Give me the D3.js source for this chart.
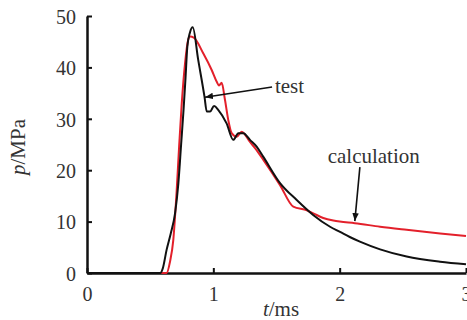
<!DOCTYPE html>
<html>
<head>
<meta charset="utf-8">
<script src="https://cdn.jsdelivr.net/npm/d3@7.9.0/dist/d3.min.js"></script>
<style>
  body { margin: 0; background: #fff; }
</style>
</head>
<body>
<svg id="chart" width="467" height="320"></svg>
<script>
// measured pressure (test)
const testT = [0, 0.58, 0.60, 0.63, 0.663, 0.697, 0.723, 0.745, 0.765, 0.78, 0.794, 0.815, 0.837,
  0.88, 0.93, 0.948, 0.974, 1.006, 1.04, 1.105, 1.158, 1.198, 1.237, 1.29, 1.343, 1.396,
  1.528, 1.66, 1.79, 1.924, 2.003, 2.08, 2.16, 2.32, 2.53, 2.795, 3.0];
const testP = [0, 0, 0.9, 4.5, 7.7, 11.6, 17.4, 25, 32, 38, 44, 46.8, 47.8,
  41.5, 34.3, 31.4, 31.4, 32.5, 31.7, 29.1, 25.9, 27.2, 27.2, 25.9, 24.6, 22.6,
  17.5, 14.2, 11.3, 9.0, 8.0, 7.0, 6.1, 4.6, 3.2, 2.2, 1.7];

// simulated pressure (calculation)
const calcT = [0, 0.63, 0.657, 0.683, 0.71, 0.73, 0.75, 0.776, 0.80, 0.815, 0.845,
  0.921, 0.987, 1.027, 1.045, 1.066, 1.092, 1.118, 1.145, 1.185, 1.225, 1.29, 1.33, 1.396,
  1.528, 1.633, 1.74, 1.80, 1.87, 1.95, 2.0, 2.12, 2.32, 2.53, 2.795, 3.0];
const calcP = [0, 0, 2.2, 6.4, 16.1, 25, 33, 40.8, 45.3, 46, 45.8,
  42.7, 39.5, 37.2, 36.5, 37.0, 33.7, 29.8, 27.2, 26.5, 27.5, 25.5, 24.3, 22,
  17.1, 12.9, 12.2, 11.5, 10.7, 10.2, 10.0, 9.7, 9.0, 8.4, 7.7, 7.2];

const xTicks = [0, 1, 2, 3];
const yTicks = [0, 10, 20, 30, 40, 50];

const serif = '"Liberation Serif", "DejaVu Serif", "Times New Roman", serif';

const svg = d3.select('#chart');
const x = d3.scaleLinear().domain([0, 3]).range([87, 466]);
const y = d3.scaleLinear().domain([0, 50]).range([273, 16]);

// axes, ticks pointing inward
const yAxis = svg.append('g')
  .attr('transform', `translate(${x(0)},0)`)
  .call(d3.axisLeft(y).tickValues(yTicks).tickFormat(d3.format('d'))
    .tickSizeInner(-5).tickSizeOuter(0).tickPadding(11));
const xAxis = svg.append('g')
  .attr('transform', `translate(0,${y(0)})`)
  .call(d3.axisBottom(x).tickValues(xTicks).tickFormat(d3.format('d'))
    .tickSizeInner(-5).tickSizeOuter(0).tickPadding(14));

[xAxis, yAxis].forEach(ax => {
  ax.attr('font-family', serif).attr('font-size', 20);
  ax.select('.domain').attr('stroke', '#111').attr('stroke-width', 2.5);
  ax.selectAll('.tick line').attr('stroke', '#111').attr('stroke-width', 2);
  ax.selectAll('.tick text').attr('fill', '#333');
});
yAxis.selectAll('.tick text').attr('dy', '0.36em');

// curves
const line = (ts, ps) => d3.line()
  .x((d, i) => x(ts[i]))
  .y((d, i) => y(ps[i]))
  .curve(d3.curveMonotoneX)(ts);

svg.append('path')
  .attr('d', line(calcT, calcP))
  .attr('fill', 'none').attr('stroke', '#e3202b').attr('stroke-width', 2);

svg.append('path')
  .attr('d', line(testT, testP))
  .attr('fill', 'none').attr('stroke', '#111').attr('stroke-width', 2);

// arrows
svg.append('defs').append('marker')
  .attr('id', 'head').attr('viewBox', '0 0 10 10')
  .attr('refX', 10).attr('refY', 5)
  .attr('markerWidth', 8).attr('markerHeight', 8)
  .attr('markerUnits', 'userSpaceOnUse')
  .attr('orient', 'auto')
  .append('path').attr('d', 'M0,1 L10,5 L0,9 Z').attr('fill', '#111');

const notes = [
  { text: 'test', tx: 1.488, tp: 35.0, from: [1.465, 36.2], to: [0.934, 34.2] },
  { text: 'calculation', tx: 1.905, tp: 21.4, from: [2.16, 20.6], to: [2.12, 10.1] }
];
notes.forEach(n => {
  svg.append('line')
    .attr('x1', x(n.from[0])).attr('y1', y(n.from[1]))
    .attr('x2', x(n.to[0])).attr('y2', y(n.to[1]))
    .attr('stroke', '#111').attr('stroke-width', 1.6)
    .attr('marker-end', 'url(#head)');
  svg.append('text')
    .attr('x', x(n.tx)).attr('y', y(n.tp))
    .attr('font-family', serif).attr('font-size', 21).attr('fill', '#333')
    .text(n.text);
});

// axis titles
svg.append('text')
  .attr('transform', 'translate(25,147) rotate(-90)')
  .attr('text-anchor', 'middle')
  .attr('font-family', serif).attr('font-size', 21).attr('fill', '#333')
  .html('<tspan font-style="italic">p</tspan>/MPa');

svg.append('text')
  .attr('x', 281).attr('y', 316)
  .attr('text-anchor', 'middle')
  .attr('font-family', serif).attr('font-size', 21).attr('fill', '#333')
  .html('<tspan font-style="italic">t</tspan>/ms');
</script>
</body>
</html>
